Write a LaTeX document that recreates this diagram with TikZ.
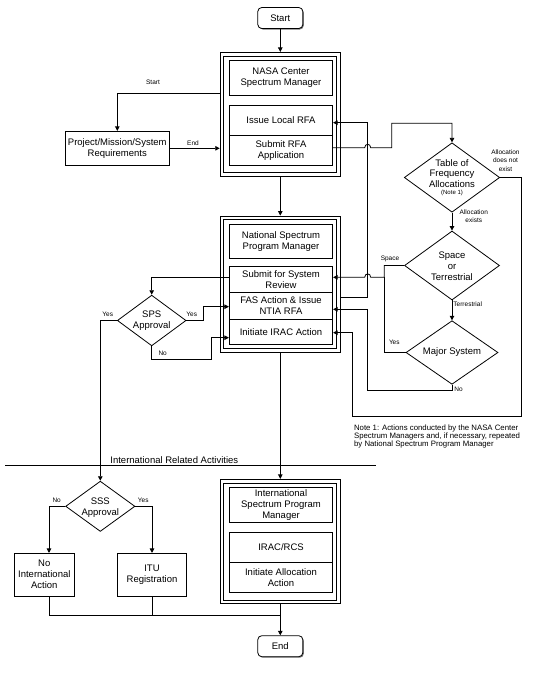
\documentclass[tikz,border=0pt]{standalone}
\usepackage{fontspec}
\setmainfont{Liberation Sans}
\usetikzlibrary{arrows.meta,shapes.geometric,shadows}
\begin{document}
\begin{tikzpicture}[x=1pt,y=-1pt,
  line width=0.8pt,
  >={Triangle[length=4.5pt,width=4.5pt]},
  mainfont/.style={font=\fontsize{9.5}{11}\selectfont},
  box/.style={draw, rectangle, inner sep=1pt, align=center, mainfont},
  frame/.style={draw, rectangle, inner sep=0pt},
  dia/.style={draw, diamond, inner sep=0pt},
  dtext/.style={align=center, inner sep=0pt, font=\fontsize{9.5}{11}\selectfont},
  term/.style={draw, rectangle, rounded corners=4pt, minimum width=45pt, minimum height=21pt,
    mainfont, fill=white, drop shadow={shadow xshift=1pt, shadow yshift=-1pt, fill=black!55, opacity=1}},
  lbl/.style={font=\fontsize{6.5}{8.5}\selectfont, inner sep=0pt, align=center}
]
\useasboundingbox (0,0) rectangle (543,675);

% ---------- top ----------
\node[term] (start) at (280.3,18) {Start};

\node[frame, minimum width=120.3pt, minimum height=123.7pt] (c1) at (280.3,114.2) {};
\draw ([shift={(4,4)}]c1.north west) rectangle ([shift={(-4,-4)}]c1.south east);
\node[box, minimum width=103.4pt, minimum height=35pt] (nasa) at (281,77.8) {NASA Center\\Spectrum Manager};
\node[box, minimum width=103.4pt, minimum height=30pt] (issue) at (281,120.3) {Issue Local RFA};
\node[box, minimum width=103.4pt, minimum height=30pt] (subrfa) at (281,150.3) {Submit RFA\\Application};

\node[box, minimum width=104pt, minimum height=34pt] (proj) at (117.3,148.3) {Project/Mission/System\\Requirements};

\draw[->] (start.south) -- (c1.north);
\draw[->] ([yshift=20.9pt]c1.west) -| (proj.north);
\draw[->] (proj.east) -- (proj.east -| c1.west);
\node[lbl] (lstart) at (153,82.3) {Start};
\node[lbl] (lend) at (193,142.7) {End};

% ---------- right decision chain ----------
\node[dia, minimum width=95.4pt, minimum height=69.4pt] (table) at (452,177.5) {};
\node[dtext, font=\fontsize{9.5}{10.7}\selectfont] (tablet) at (452,173.4) {Table of\\Frequency\\Allocations};
\node[lbl, font=\fontsize{6}{6}\selectfont] (tablen) at (452,192.7) {(Note 1)};

\node[dia, minimum width=95pt, minimum height=69pt] (space) at (452,265.5) {};
\node[dtext, font=\fontsize{9.5}{11.2}\selectfont] (spacet) at (452,266) {Space\\or\\Terrestrial};

\node[dia, minimum width=92pt, minimum height=63.6pt] (major) at (452,352.5) {};
\node[dtext] (majort) at (452,352.5) {Major System};

% ---------- middle container ----------
\node[frame, minimum width=120.3pt, minimum height=136pt] (c2) at (280.3,284) {};
\draw ([shift={(4,4)}]c2.north west) rectangle ([shift={(-4,-4)}]c2.south east);
\node[box, minimum width=103.4pt, minimum height=34.3pt] (natl) at (281,241.2) {National Spectrum\\Program Manager};
\node[box, minimum width=103.4pt, minimum height=26pt] (ssr) at (281,279.7) {Submit for System\\Review};
\node[box, minimum width=103.4pt, minimum height=26.6pt] (fas) at (281,306) {FAS Action \& Issue\\NTIA RFA};
\node[box, minimum width=103.4pt, minimum height=25pt] (irac) at (281,331.8) {Initiate IRAC Action};

\draw[->] (c1.south) -- (c2.north);

% Submit RFA -> Table (with hop)
\draw[->] ([yshift=2.6pt]subrfa.east) -- (364.7,147.7)
  .. controls (364.7,143.2) and (370.7,143.2) .. (370.7,147.7)
  -- (391.7,147.7) -- (391.7,123.3) -| (table.north);
% FAS -> Issue Local RFA
\draw[->] ([yshift=-13.3pt]c2.east) -- (367.7,297.3) |- ([yshift=-2.4pt]issue.east);
% Table -> not exist -> IRAC
\draw[->] (table.east) -- (521,177.5) -- (521,416) -- (352.7,416) |- ([yshift=-0.9pt]irac.east);
\node[lbl] (ldne) at (505.5,160.2) {Allocation\\does not\\exist};
% Table -> Space
\draw[->] (table.south) -- (space.north);
\node[lbl, font=\fontsize{6.5}{7.7}\selectfont] (lex) at (473.8,216.2) {Allocation\\exists};
% Space -> Submit for System Review (with hop)
\draw[->] (space.west) -- (384.3,265.5) -- (384.3,277.3) -- (370.7,277.3)
  .. controls (370.7,272.8) and (364.7,272.8) .. (364.7,277.3) -- ([yshift=2.4pt]ssr.east);
\node[lbl] (lspace) at (390,259.3) {Space};
% Space -> Major
\draw[->] (space.south) -- (major.north);
\node[lbl] (lterr) at (467.7,304.3) {Terrestrial};
% Major yes -> joins space line
\draw (major.west) -- (384.3,352.5) -- (384.3,277.3);
\node[lbl] (lmyes) at (394.3,342.3) {Yes};
% Major no -> FAS
\draw[->] (major.south) -- (452,390.7) -- (367.7,390.7) |- ([yshift=-3.3pt]fas.east);
\node[lbl] (lmno) at (458.5,389.7) {No};

% ---------- SPS ----------
\node[dia, minimum width=68.7pt, minimum height=50.7pt] (sps) at (151.7,320.5) {};
\node[dtext, font=\fontsize{9.5}{11.7}\selectfont] (spst) at (151.7,320.8) {SPS\\Approval};
\draw[->] ([yshift=2.4pt]ssr.west) -| (sps.north);
\draw[->] (sps.east) -- (203.3,320.5) |- ([yshift=-0.7pt]fas.west);
\node[lbl] (lsyes) at (191.7,314.3) {Yes};
\draw[->] (sps.south) -- (151.7,359.3) -- (211.7,359.3) |- ([yshift=-5.9pt]irac.west);
\node[lbl] (lsno) at (162.7,353.3) {No};
\node[lbl] (lsyes2) at (107.7,314.3) {Yes};

% ---------- separator ----------
\coordinate (sepl) at (5,465.7);
\coordinate (sepr) at (376,465.7);
\draw (sepl) -- (sepr);
\node[dtext] (septext) at (174.3,460.2) {International Related Activities};

% ---------- bottom ----------
\node[dia, minimum width=69.3pt, minimum height=50.3pt] (sss) at (100.3,506.3) {};
\node[dtext, font=\fontsize{9.5}{11}\selectfont] (ssst) at (100.3,507.2) {SSS\\Approval};
\draw[->] (sps.west) -| (sss.north);

\node[box, minimum width=60pt, minimum height=42.7pt] (noint) at (44.3,574.7) {No\\International\\Action};
\node[box, minimum width=69.4pt, minimum height=42.7pt] (itu) at (152,574.7) {ITU\\Registration};
\draw[->] (sss.west) -| ([xshift=4.7pt]noint.north);
\draw[->] (sss.east) -| (itu.north);
\node[lbl] (lsssno) at (56.7,500.7) {No};
\node[lbl] (lsssyes) at (143.3,500.7) {Yes};

\node[frame, minimum width=120.3pt, minimum height=124.4pt] (c3) at (280.3,541.5) {};
\draw ([shift={(4,4)}]c3.north west) rectangle ([shift={(-4,-4)}]c3.south east);
\node[box, minimum width=103.4pt, minimum height=35pt] (intl) at (281,504.8) {International\\Spectrum Program\\Manager};
\node[box, minimum width=103.4pt, minimum height=30.4pt] (ircs) at (281,547.5) {IRAC/RCS};
\node[box, minimum width=103.4pt, minimum height=30pt] (initalloc) at (281,577.7) {Initiate Allocation\\Action};
\draw[->] (c2.south) -- (c3.north);

\node[term] (end) at (280.3,646.2) {End};
\coordinate (join) at (280.3,615);
\draw ([xshift=4.7pt]noint.south) |- (join);
\draw (itu.south) -- (itu.south |- join);
\draw[->] (c3.south) -- (end.north);

% ---------- note ----------
\node[anchor=north west, align=left, inner sep=0pt, font=\fontsize{7.8}{8}\selectfont] (note) at (353.7,424.2)
  {Note 1: Actions conducted by the NASA Center\\Spectrum Managers and, if necessary, repeated\\by National Spectrum Program Manager};
\end{tikzpicture}
\end{document}
